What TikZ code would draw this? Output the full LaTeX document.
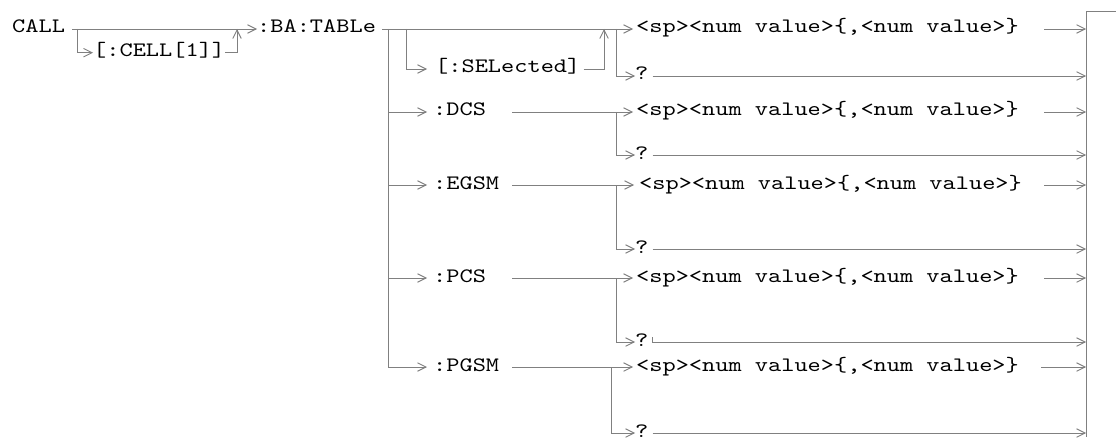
\documentclass[tikz,border=0pt]{standalone}
\usepackage{fontspec}
\newfontfamily\cmono{lmmono10-regular.otf}[FakeStretch=1.226]
\usetikzlibrary{arrows.meta}
\definecolor{linegray}{RGB}{128,128,128}
\begin{document}
\begin{tikzpicture}[x=1pt,y=-1pt,
  lbl/.style={font={\fontsize{20.5}{24}\selectfont\cmono}, inner sep=0pt, text height=10pt, text depth=2pt, anchor=west, text=black},
  conn/.style={draw=linegray, line width=0.9pt},
  arr/.style={conn, -{Straight Barb[length=8.5pt,width=8.5pt]}}]
\useasboundingbox[fill=white] (0,0) rectangle (1116,441);
% labels
\node[lbl] (call) at (12,29) {CALL};
\node[lbl] (cell) at (93,52.7) {[:CELL[1]]};
\node[lbl] (batable) at (257,29) {:BA:TABLe};
\node[lbl] (sel) at (435,69) {[:SELected]};
\node[lbl] (sp1) at (636,29) {<sp><num value>\{,<num value>\}};
\node[lbl] (q1) at (635,76) {?};
\node[lbl] (dcs) at (433,112) {:DCS};
\node[lbl] (sp2) at (636,112) {<sp><num value>\{,<num value>\}};
\node[lbl] (q2) at (635,155) {?};
\node[lbl] (egsm) at (433,185) {:EGSM};
\node[lbl] (sp3) at (639,185) {<sp><num value>\{,<num value>\}};
\node[lbl] (q3) at (635,249) {?};
\node[lbl] (pcs) at (433,278) {:PCS};
\node[lbl] (sp4) at (636,278) {<sp><num value>\{,<num value>\}};
\node[lbl] (q4) at (635,342) {?};
\node[lbl] (pgsm) at (433,367) {:PGSM};
\node[lbl] (sp5) at (636,367) {<sp><num value>\{,<num value>\}};
\node[lbl] (q5) at (635,433) {?};
% junction coordinates
\coordinate (bartop) at (1086,11.7);
\coordinate (barbot) at (1086,436.7);
\coordinate (exit) at (1116,11.7);
\coordinate (j1) at (77,29);
\coordinate (j2) at (237,29);
\coordinate (rail) at (388,29);
\coordinate (j3) at (406,29);
\coordinate (j4) at (604,29);
\coordinate (j5) at (616,29);
\coordinate (s2) at (512,112);
\coordinate (s3) at (512,185);
\coordinate (s4) at (512,278);
\coordinate (s5) at (512,367);
\coordinate (k5) at (611,367);
% CALL part
\draw[arr] ([xshift=7pt]call.east) -- (batable.west);
\draw[arr] (j1) |- (cell.west);
\draw[arr] (cell.east) -| (j2);
% :BA:TABLe main line
\draw[arr] ([xshift=6pt]batable.east) -- ([xshift=-3pt]sp1.west);
\draw[arr] (rail) |- ([xshift=-6pt]pgsm.west);
\draw[arr] (rail |- dcs.west) -- ([xshift=-6pt]dcs.west);
\draw[arr] (rail |- egsm.west) -- ([xshift=-6pt]egsm.west);
\draw[arr] (rail |- pcs.west) -- ([xshift=-6pt]pcs.west);
\draw[arr] (j3) |- ([xshift=-8pt]sel.west);
\draw[arr] ([xshift=3pt]sel.east) -| (j4);
\draw[arr] (j5) |- (q1.west);
\draw[arr] ([xshift=4pt]q1.east) -- (q1.east -| bartop);
\draw[arr] ([xshift=25pt]sp1.east) -- (sp1.east -| bartop);
% DCS
\draw[arr] (s2) -- ([xshift=-3pt]sp2.west);
\draw[arr] (s2 -| j5) |- (q2.west);
\draw[arr] ([xshift=4pt]q2.east) -- (q2.east -| bartop);
\draw[arr] ([xshift=25pt]sp2.east) -- (sp2.east -| bartop);
% EGSM
\draw[arr] (s3) -- ([xshift=-5pt]sp3.west);
\draw[arr] (s3 -| j5) |- (q3.west);
\draw[arr] ([xshift=4pt]q3.east) -- (q3.east -| bartop);
\draw[arr] ([xshift=22pt]sp3.east) -- (sp3.east -| bartop);
% PCS
\draw[arr] (s4) -- ([xshift=-3pt]sp4.west);
\draw[arr] (s4 -| j5) |- (q4.west);
\draw[arr] ([xshift=4pt,yshift=5pt]q4.east) -- ([xshift=4pt]q4.east) -- (q4.east -| bartop);
\draw[arr] ([xshift=25pt]sp4.east) -- (sp4.east -| bartop);
% PGSM
\draw[arr] (s5) -- ([xshift=-3pt]sp5.west);
\draw[arr] (k5) |- (q5.west);
\draw[arr] ([xshift=4pt]q5.east) -- (q5.east -| bartop);
\draw[arr] ([xshift=22pt]sp5.east) -- (sp5.east -| bartop);
% exit bar
\draw[conn] (barbot) -- (bartop) -- (exit);
\end{tikzpicture}
\end{document}
